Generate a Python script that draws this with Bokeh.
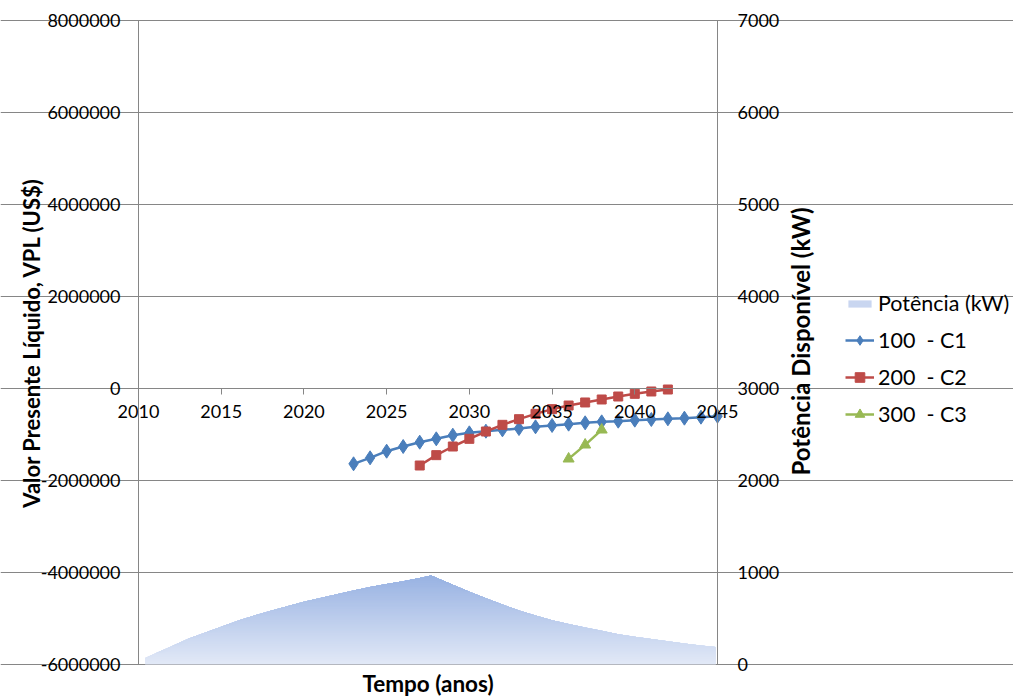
import numpy as np
from bokeh.plotting import figure
from bokeh.models import (Range1d, LinearAxis, FixedTicker, Grid, Legend, LegendItem,
                          NumeralTickFormatter, Label)
from bokeh.embed import file_html
from bokeh.resources import INLINE

# ---- data -------------------------------------------------------------
# Net present value (US$) by year for each configuration
years_c1 = list(range(2023, 2046))
vpl_c1 = [-1637000, -1507000, -1363000, -1261000, -1167000, -1094000, -1015000,
          -964000, -928000, -899000, -870000, -833000, -804000, -775000, -746000,
          -725000, -710000, -688000, -674000, -659000, -645000, -623000, -601000]

years_c2 = list(range(2027, 2043))
vpl_c2 = [-1674000, -1449000, -1261000, -1094000, -935000, -790000, -667000,
          -551000, -449000, -370000, -304000, -239000, -174000, -116000, -65000, -22000]

years_c3 = [2036, 2037, 2038]
vpl_c3 = [-1529000, -1225000, -899000]

# Available power (kW) over time
area_t = [2010.4, 2011, 2012, 2013, 2014, 2015, 2016, 2017, 2018, 2019, 2020, 2021,
          2022, 2023, 2024, 2025, 2026, 2027, 2027.7, 2028, 2029, 2030, 2031, 2032,
          2033, 2034, 2035, 2036, 2037, 2038, 2039, 2040, 2041, 2042, 2043, 2044, 2044.9]
area_kw = [72, 120, 198, 279, 344, 409, 475, 532, 583, 632, 683, 724, 763, 803, 843,
           874, 905, 940, 967, 944, 866, 791, 719, 653, 587, 532, 480, 441, 402, 366,
           328, 302, 277, 253, 228, 207, 191]

x_ticks = [2010, 2015, 2020, 2025, 2030, 2035, 2040, 2045]
vpl_ticks = [-6000000, -4000000, -2000000, 0, 2000000, 4000000, 6000000, 8000000]
kw_ticks = [0, 1000, 2000, 3000, 4000, 5000, 6000, 7000]

labels = ["Potência (kW)", "100  - C1", "200  - C2", "300  - C3"]

# ---- layout -----------------------------------------------------------
W, H = 1013, 700
# pixel box of the plotting area inside the canvas
BOX_L, BOX_R, BOX_T, BOX_B = 138, 717, 20, 664
XA, XB = x_ticks[0], x_ticks[-1]
YA, YB = vpl_ticks[0], vpl_ticks[-1]
KA, KB = kw_ticks[0], kw_ticks[-1]

sx = (BOX_R - BOX_L) / (XB - XA)
sy = (BOX_B - BOX_T) / (YB - YA)
sk = (BOX_B - BOX_T) / (KB - KA)
x_range = Range1d(XA - BOX_L / sx, XB + (W - BOX_R) / sx)
y_range = Range1d(YA - (H - BOX_B) / sy, YB + BOX_T / sy)
kw_range = Range1d(KA - (H - BOX_B) / sk, KB + BOX_T / sk)

FONT = "Lato"
GRID = "#868686"
TXT = "#000000"
C1, C2, C3 = "#4a7ebb", "#be4b48", "#98b954"

p = figure(width=W, height=H, output_backend="svg", toolbar_location=None,
           x_range=x_range, y_range=y_range, x_axis_type=None, y_axis_type=None,
           min_border=0)
p.extra_y_ranges = {"kw": kw_range}
p.outline_line_color = None
p.background_fill_color = "white"
p.border_fill_color = "white"

# horizontal grid from the left value axis
p.add_layout(Grid(dimension=1, ticker=FixedTicker(ticks=vpl_ticks), bounds=(XA, XB),
                  grid_line_color=GRID, grid_line_width=1))

# gradient-filled power area (stacked bands, darker towards the top)
kw = np.array(area_kw, dtype=float)
peak = kw.max()
bottom_rgb = np.array([226, 233, 247])
top_rgb = np.array([152, 178, 226])
n_bands = 48
area_rs = []
for j in range(n_bands):
    lo = peak * j / n_bands
    t = (j + 0.5) / n_bands
    rgb = (bottom_rgb + (top_rgb - bottom_rgb) * t).round().astype(int)
    col = "#%02x%02x%02x" % tuple(rgb)
    r = p.varea(x=area_t, y1=np.minimum(kw, lo), y2=kw, fill_color=col,
                y_range_name="kw")
    area_rs.append(r)

# NPV series
l1 = p.line(years_c1, vpl_c1, line_color=C1, line_width=2.5)
m1 = p.scatter(years_c1, vpl_c1, marker="diamond", size=14, fill_color=C1, line_color=C1)
l2 = p.line(years_c2, vpl_c2, line_color=C2, line_width=2.5)
m2 = p.scatter(years_c2, vpl_c2, marker="square", size=9, fill_color=C2, line_color=C2)
l3 = p.line(years_c3, vpl_c3, line_color=C3, line_width=2.5)
m3 = p.scatter(years_c3, vpl_c3, marker="triangle", size=11, fill_color=C3, line_color=C3)

# axes, pinned to the edges of the plotting box
left = LinearAxis(ticker=FixedTicker(ticks=vpl_ticks), fixed_location=XA, bounds=(YA, YB),
                  formatter=NumeralTickFormatter(format="0"),
                  axis_label="Valor Presente Líquido, VPL (US$)")
right = LinearAxis(y_range_name="kw", ticker=FixedTicker(ticks=kw_ticks),
                   fixed_location=XB, bounds=(KA, KB))
xax = LinearAxis(ticker=FixedTicker(ticks=x_ticks), fixed_location=0, bounds=(XA, XB))
xtitle = LinearAxis(ticker=FixedTicker(ticks=[]), fixed_location=YA, bounds=(XA, XB),
                    axis_label="Tempo (anos)")

for ax in (left, right, xax, xtitle):
    ax.axis_line_color = GRID
    ax.axis_line_width = 1
    ax.major_tick_line_color = GRID
    ax.major_tick_in = 0
    ax.major_tick_out = 6
    ax.minor_tick_line_color = None
    ax.major_label_text_font = FONT
    ax.major_label_text_font_size = "18px"
    ax.major_label_text_color = TXT
    ax.axis_label_text_font = FONT
    ax.axis_label_text_font_size = "22px"
    ax.axis_label_text_font_style = "bold"
    ax.axis_label_text_color = TXT

left.major_label_standoff = 12
left.axis_label_standoff = -7
right.major_label_standoff = 14
xax.major_label_standoff = 10
xtitle.axis_line_color = None
xtitle.major_tick_out = 0
xtitle.axis_label_text_font_size = "22.5px"
xtitle.axis_label_standoff = 5

p.add_layout(left, "left")
p.add_layout(right, "right")
p.add_layout(xax, "below")
p.add_layout(xtitle, "below")

# right axis title, reading upwards
p.add_layout(Label(x=800, y=H - 341, x_units="screen", y_units="screen",
                   text="Potência Disponível (kW)", angle=np.pi / 2,
                   text_align="center", text_baseline="middle",
                   text_font=FONT, text_font_size="24px", text_font_style="bold",
                   text_color=TXT))


def style_legend(lg):
    lg.padding = 0
    lg.margin = 0
    lg.glyph_width = 29
    lg.label_height = 26
    lg.label_standoff = 4
    lg.label_text_font = FONT
    lg.label_text_font_size = "21.5px"
    lg.label_text_color = TXT
    lg.label_text_baseline = "middle"
    lg.border_line_color = None
    lg.background_fill_alpha = 0


# legend: area swatch on its own (flat swatch), series below with larger markers
leg_area = Legend(items=[LegendItem(label=labels[0], renderers=[area_rs[n_bands // 3]])],
                  location=(845, H - 316))
style_legend(leg_area)
leg_area.glyph_height = 9

leg_lines = Legend(items=[LegendItem(label=labels[1], renderers=[l1, m1]),
                          LegendItem(label=labels[2], renderers=[l2, m2]),
                          LegendItem(label=labels[3], renderers=[l3, m3])],
                   location=(845, H - 427))
style_legend(leg_lines)
leg_lines.glyph_height = 24
leg_lines.spacing = 11

p.add_layout(leg_area, "center")
p.add_layout(leg_lines, "center")

open("out.html", "w").write(file_html(p, INLINE))
